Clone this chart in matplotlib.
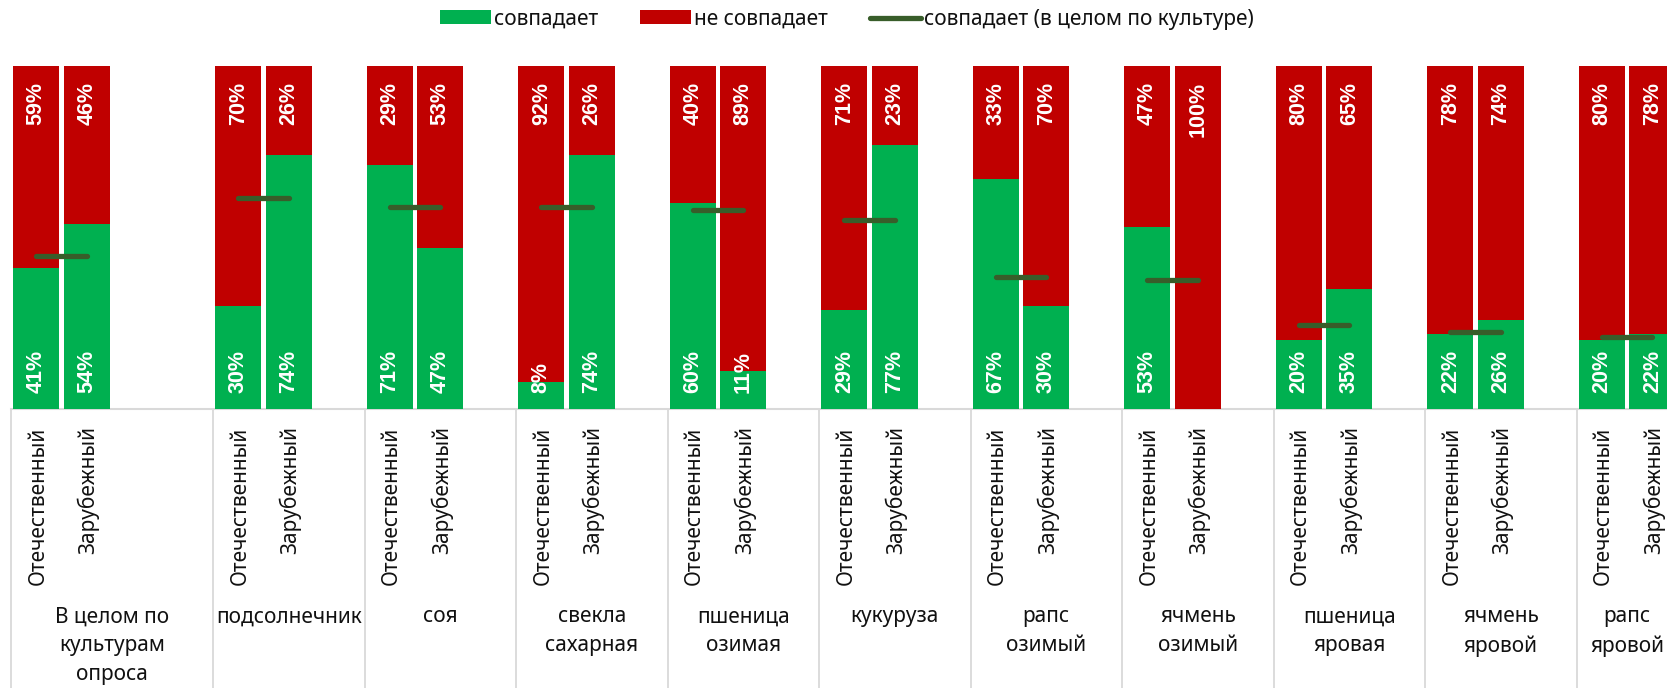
import matplotlib
matplotlib.use('Agg')
import matplotlib.pyplot as plt
from matplotlib.patches import Patch
from matplotlib.lines import Line2D
import numpy as np

plt.rcParams['font.family'] = ['Noto Sans', 'DejaVu Sans']

cultures = ['В целом по\nкультурам\nопроса', 'подсолнечник', 'соя', 'свекла\nсахарная',
            'пшеница\nозимая', 'кукуруза', 'рапс\nозимый', 'ячмень\nозимый',
            'пшеница\nяровая', 'ячмень\nяровой', 'рапс\nяровой']
origins = ['Отечественный', 'Зарубежный']
match_dom = [41, 30, 71, 8, 60, 29, 67, 53, 20, 22, 20]
match_for = [54, 74, 47, 74, 11, 77, 30, 0, 35, 26, 22]
mismatch_dom = [59, 70, 29, 92, 40, 71, 33, 47, 80, 78, 80]
mismatch_for = [46, 26, 53, 26, 89, 23, 70, 100, 65, 74, 78]
match_total = [44.5, 61.5, 59, 59, 58, 55, 38.5, 37.5, 24.5, 22.5, 21]
slots_per_group = [4] + [3] * 9 + [2]

GREEN = '#00B050'
RED = '#C00000'
LINEC = '#385D2A'
GRID = '#D9D9D9'
TXT = '#111111'
BOLD_FAMILY = ['Liberation Sans', 'DejaVu Sans']

W, H = 1667, 688
fig = plt.figure(figsize=(W / 100, H / 100), dpi=100)
left_px, slot_px = 11, 50.5
nslots = sum(slots_per_group)
ax = fig.add_axes([left_px / W, 1 - 409 / H, nslots * slot_px / W, 343 / H])
ax.set_xlim(-0.5, nslots - 0.5)
ax.set_ylim(0, 100)
ax.axis('off')

starts = np.concatenate([[0], np.cumsum(slots_per_group)[:-1]])
bw = 0.91
xform = ax.get_xaxis_transform()

for k, s in enumerate(starts):
    pos = [s, s + 1]
    greens = [match_dom[k], match_for[k]]
    reds = [mismatch_dom[k], mismatch_for[k]]
    ax.bar(pos, greens, width=bw, color=GREEN, edgecolor='none', zorder=2)
    ax.bar(pos, reds, width=bw, bottom=greens, color=RED, edgecolor='none', zorder=2)
    for x, g, r in zip(pos, greens, reds):
        if r > 0:
            ax.annotate(f'{r}%', (x, 100), xytext=(0, -11.5), textcoords='offset points',
                        rotation=90, ha='center', va='top', color='white',
                        fontsize=15.5, fontweight='bold', family=BOLD_FAMILY, zorder=5)
        if g > 0:
            ax.annotate(f'{g}%', (x, 0), xytext=(0, 11.5), textcoords='offset points',
                        rotation=90, ha='center', va='bottom', color='white',
                        fontsize=15.5, fontweight='bold', family=BOLD_FAMILY, zorder=5)
    # overall line
    ax.plot([s, s + 1], [match_total[k]] * 2, color=LINEC, lw=3.8,
            solid_capstyle='round', zorder=4)
    # origin labels
    for x, lab in zip(pos, origins):
        ax.text(x + 0.03, -0.051, lab, transform=xform, rotation=90, ha='center',
                va='top', fontsize=15, color=TXT, clip_on=False)
    # group label
    center = s - 0.5 + slots_per_group[k] / 2
    ax.text(center, -0.575, cultures[k], transform=xform, ha='center', va='top',
            fontsize=15, color=TXT, linespacing=1.5, clip_on=False)
    # separator
    ax.plot([s - 0.5, s - 0.5], [0, -0.9], transform=xform, color=GRID, lw=1.3,
            clip_on=False, zorder=1)

ax.plot([-0.5, nslots - 0.5], [0, 0], transform=xform, color=GRID, lw=1.5,
        clip_on=False, zorder=1)

handles = [Patch(facecolor=GREEN, edgecolor='none'),
           Patch(facecolor=RED, edgecolor='none'),
           Line2D([0], [0], color=LINEC, lw=3.8, solid_capstyle='round')]
labels = ['совпадает', 'не совпадает', 'совпадает (в целом по культуре)']
fig.legend(handles, labels, loc='center', bbox_to_anchor=(0.508, 0.972), ncol=3,
           frameon=False, fontsize=15, handlelength=2.45, handleheight=0.66,
           handletextpad=0.15, columnspacing=2.0, labelcolor=TXT)

fig.savefig('out.png', dpi=100)
